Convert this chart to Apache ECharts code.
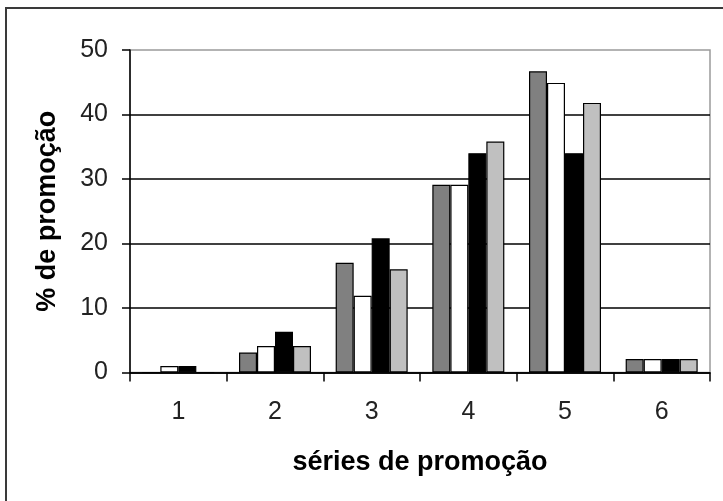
<!DOCTYPE html>
<html>
<head>
<meta charset="utf-8">
<script src="https://cdn.jsdelivr.net/npm/echarts@6/dist/echarts.min.js"></script>
<style>html,body{margin:0;padding:0;background:#fff;overflow:hidden;}#c{width:723px;height:501px;}</style>
</head>
<body>
<div id="c"></div>
<script>
const categories = ['1', '2', '3', '4', '5', '6'];
const serieA = [0, 3.1, 17.0, 29.1, 46.7, 2.1];   // dark gray
const serieB = [1.0, 4.1, 11.9, 29.1, 44.9, 2.1]; // white
const serieC = [1.0, 6.3, 20.8, 34.0, 34.0, 2.1]; // black
const serieD = [0, 4.1, 16.0, 35.8, 41.8, 2.1];   // light gray
const yTicks = { min: 0, max: 50, interval: 10 };
const xTitle = 'séries de promoção';
const yTitle = '% de promoção';

const chart = echarts.init(document.getElementById('c'), null, { renderer: 'canvas' });
const FONT = 'Liberation Sans';
function bar(name, data, color) {
  return {
    name, type: 'bar', data, barWidth: 18, barGap: '0%',
    itemStyle: { color, borderColor: '#000', borderWidth: 1.2 },
    animation: false
  };
}
chart.setOption({
  animation: false,
  backgroundColor: '#fff',
  grid: { left: 130, right: 13, top: 50, bottom: 128.5, show: true, borderColor: '#9a9a9a', borderWidth: 1.5, backgroundColor: 'transparent' },
  xAxis: {
    type: 'category', data: categories,
    name: xTitle, nameLocation: 'middle', nameGap: 77,
    nameTextStyle: { fontFamily: FONT, fontWeight: 'bold', fontSize: 27, color: '#000' },
    axisLine: { lineStyle: { color: '#000', width: 1.5 } },
    axisTick: { show: true, length: 9, inside: false, lineStyle: { color: '#000', width: 1.5 } },
    axisLabel: { fontFamily: FONT, fontSize: 25, color: '#222', margin: 27 },
    splitLine: { show: false }
  },
  yAxis: {
    type: 'value', min: yTicks.min, max: yTicks.max, interval: yTicks.interval,
    name: yTitle, nameLocation: 'middle', nameGap: 69, nameRotate: 90,
    nameTextStyle: { fontFamily: FONT, fontWeight: 'bold', fontSize: 27, color: '#000' },
    axisLine: { show: true, lineStyle: { color: '#000', width: 1.5 } },
    axisTick: { show: true, length: 8, lineStyle: { color: '#000', width: 1.5 } },
    axisLabel: { fontFamily: FONT, fontSize: 25, color: '#222', margin: 22 },
    splitLine: { show: true, showMaxLine: false, lineStyle: { color: '#000', width: 1.5 } }
  },
  series: [
    bar('A', serieA, '#808080'),
    bar('B', serieB, '#ffffff'),
    bar('C', serieC, '#000000'),
    bar('D', serieD, '#c0c0c0')
  ],
  graphic: [{
    type: 'polyline', z: 100, silent: true,
    shape: { points: [[6, 520], [6, 8], [740, 8]] },
    style: { fill: null, stroke: '#3a3a3a', lineWidth: 2 }
  }]
});
</script>
</body>
</html>
